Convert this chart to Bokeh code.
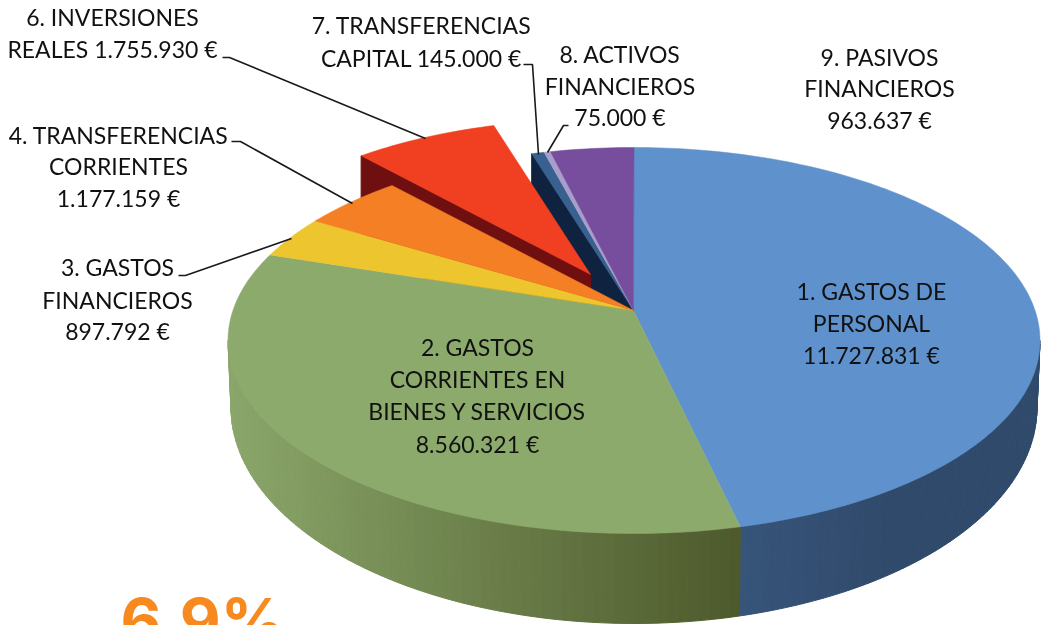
import math
from bokeh.plotting import figure
from bokeh.embed import file_html
from bokeh.resources import INLINE
from bokeh.core.properties import value

# ---- data ----
categories = ["1. Gastos de personal", "2. Gastos corrientes en bienes y servicios",
              "3. Gastos financieros", "4. Transferencias corrientes",
              "6. Inversiones reales", "7. Transferencias capital",
              "8. Activos financieros", "9. Pasivos financieros"]
amounts = [11727831, 8560321, 897792, 1177159, 1755930, 145000, 75000, 963637]
top_colors = ["#5F92CC", "#8CAA6C", "#EDC52F", "#F57F25", "#F04021", "#38618F", "#A99DCB", "#774D9E"]
label_lines = [
    ["1. GASTOS DE", "PERSONAL", "11.727.831 €"],
    ["2. GASTOS", "CORRIENTES EN", "BIENES Y SERVICIOS", "8.560.321 €"],
    ["3. GASTOS", "FINANCIEROS", "897.792 €"],
    ["4. TRANSFERENCIAS", "CORRIENTES", "1.177.159 €"],
    ["6. INVERSIONES", "REALES 1.755.930 €"],
    ["7. TRANSFERENCIAS", "CAPITAL 145.000 €"],
    ["8. ACTIVOS", "FINANCIEROS", "75.000 €"],
    ["9. PASIVOS", "FINANCIEROS", "963.637 €"],
]
# ---- layout (page pixels) ----
label_x = [871, 477, 117, 118, 112, 421, 619.5, 879]
label_y = [[290, 322, 354], [346, 378, 410, 443], [266, 299, 330], [134, 165, 197],
           [16, 48], [24, 57], [53, 85, 116], [56, 87, 119]]
leaders = [
    ([222, 229, 425], [57, 57, 138]),
    ([231, 240, 352], [141, 141, 203]),
    ([178, 185, 291], [275, 275, 238]),
    ([523, 532, 538], [64, 64, 154]),
    ([568, 563, 547], [125, 125, 152]),
]
CX, CY, RX, RY = 633.5, 340.0, 406.0, 193.0      # top ellipse
BCY, BRX, BRY = 407.0, 403.0, 216.0              # bottom ellipse
AX, AY = 633.0, 310.0                            # apex
K = 0.865                                        # perspective of angles
EXP_AX, EXP_AY, EXP_S = 590.0, 274.0, 0.95       # exploded slice
DEPTH = 90

total = sum(amounts)
edges = [0.0]
for a in amounts:
    edges.append(edges[-1] + a / total * 2 * math.pi)

def warp(a):
    return 2 * math.atan2(K * math.sin(a / 2), math.cos(a / 2)) % (2 * math.pi) if a < 2*math.pi - 1e-9 else 2 * math.pi

def top_pt(t):
    return CX + RX * math.sin(t), CY - RY * math.cos(t)

def bot_pt(t):
    return CX + BRX * math.sin(t), BCY - BRY * math.cos(t)

def lerp_hex(c1, c2, f):
    a = [int(c1[i:i+2], 16) for i in (1, 3, 5)]
    b = [int(c2[i:i+2], 16) for i in (1, 3, 5)]
    return "#%02x%02x%02x" % tuple(round(a[i] + (b[i]-a[i]) * f) for i in range(3))

def wedge(i):
    t0, t1 = warp(edges[i]), warp(edges[i+1])
    n = max(4, int((t1 - t0) * 60))
    pts = [top_pt(t0 + (t1 - t0) * j / n) for j in range(n + 1)]
    return [AX] + [q[0] for q in pts], [AY] + [q[1] for q in pts]

p = figure(width=1043, height=625, x_range=(0, 1043), y_range=(625, 0),
           output_backend="svg", toolbar_location=None, min_border=0,
           outline_line_color=None, background_fill_color="white")
p.axis.visible = False
p.grid.visible = False
p.styles = {"position": "fixed", "left": "0px", "top": "0px"}

# outer wall
tb = warp(edges[1])
N = 70
def strips(ta, tz, colour_at):
    xs, ys, cs = [], [], []
    for j in range(N):
        a = ta + (tz - ta) * j / N
        b = ta + (tz - ta) * (j + 1) / N
        pa, pb, qa, qb = top_pt(a), top_pt(b), bot_pt(a), bot_pt(b)
        xs.append([pa[0], pb[0], qb[0], qa[0]])
        ys.append([pa[1], pb[1], qb[1], qa[1]])
        cs.append(colour_at(pa[0]))
    return xs, ys, cs

for ta, tz, fn in [
    (math.pi / 2, tb, lambda x: lerp_hex("#37547A", "#304A6B", min(1, (x - 740) / 150))),
    (tb, 3 * math.pi / 2, lambda x: lerp_hex("#8AA66A", "#4E5A2C", max(0, min(1, (x - 230) / 510)))),
]:
    xs, ys, cs = strips(ta, tz, fn)
    p.patches(xs, ys, fill_color=cs, line_color=cs, line_width=1)

# cut face of slice 7 (navy), behind everything on top
t7 = warp(edges[5])
ox, oy = top_pt(t7)
p.patch([ox, AX, AX, ox], [oy, AY, AY + DEPTH, oy + DEPTH], fill_color="#0F2340", line_color="#0F2340")

# exploded slice
i_exp = 4
wx, wy = wedge(i_exp)
ex = [EXP_AX + EXP_S * (x - AX) for x in wx]
ey = [EXP_AY + EXP_S * (y - AY) for y in wy]
p.patch([ex[1], ex[0], ex[0], ex[1]], [ey[1], ey[0], ey[0] + DEPTH, ey[1] + DEPTH],
        fill_color="#6F0F0F", line_color="#6F0F0F")
p.patch(ex, ey, fill_color=top_colors[i_exp], line_color=top_colors[i_exp], line_width=0.5)

# top faces
for i in range(len(amounts)):
    if i == i_exp:
        continue
    wx, wy = wedge(i)
    p.patch(wx, wy, fill_color=top_colors[i], line_color=top_colors[i], line_width=0.5)

# leader lines
for lx, ly in leaders:
    p.line(lx, ly, line_color="#1a1a1a", line_width=1.6)

# labels
xs, ys, ts = [], [], []
for lines, x, yy in zip(label_lines, label_x, label_y):
    for t, y in zip(lines, yy):
        xs.append(x); ys.append(y); ts.append(t)
p.text(xs, ys, text=ts, text_font=value("Lato"), text_font_size="23px", text_color="#111111",
       text_align="center", text_baseline="middle")

# clipped heading at the foot of the page
p.text([120], [620], text=["6.9%"], text_font=value("Inter"), text_font_size="63px",
       text_font_style="bold", text_color="#F7891F", text_align="left", text_baseline="alphabetic")

open("out.html", "w").write(file_html(p, INLINE))
